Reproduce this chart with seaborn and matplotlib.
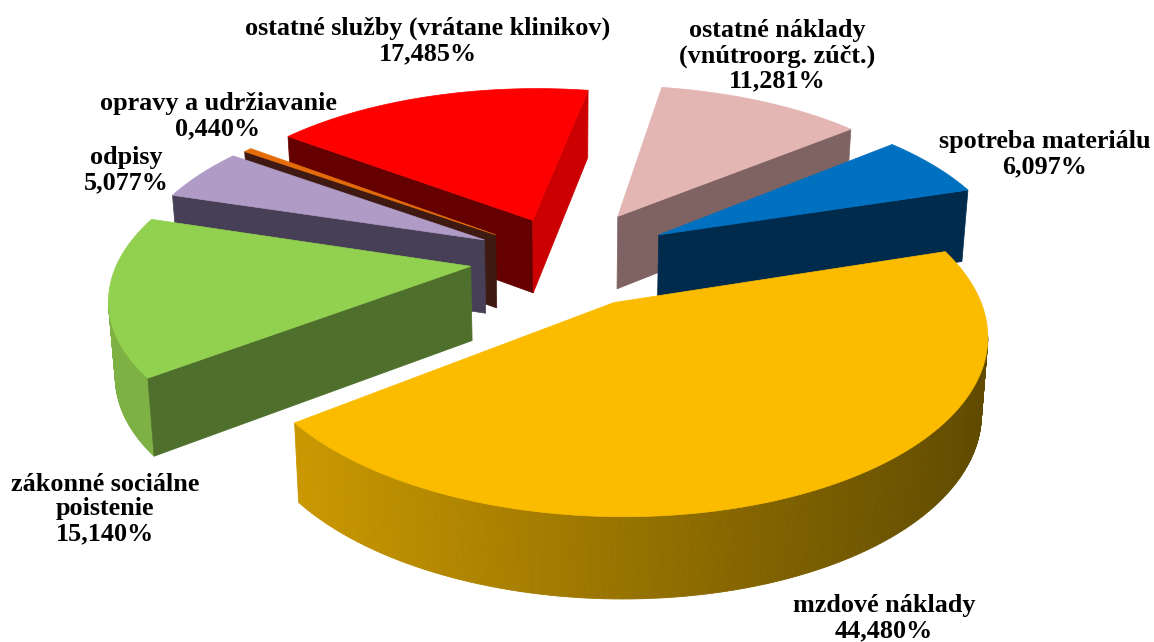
import numpy as np
import matplotlib
matplotlib.use("Agg")
import matplotlib.pyplot as plt
from matplotlib.collections import PolyCollection
from matplotlib.colors import to_rgb
import seaborn as sns

categories = ["ostatné náklady\n(vnútroorg. zúčt.)", "spotreba materiálu", "mzdové náklady",
              "zákonné sociálne\npoistenie", "odpisy", "opravy a udržiavanie",
              "ostatné služby (vrátane klinikov)"]
values = [11.281, 6.097, 44.480, 15.140, 5.077, 0.440, 17.485]
top_colors = ["#E3B5B3", "#0070C0", "#FBBC00", "#92D050", "#AF9BC5", "#E46C0A", "#FF0000"]
start_faces = ["#7F6362", "#002B4D", "#5F4A00", "#4F702C", "#463F55", "#3E1A12", "#650000"]
end_faces = ["#7F6362", "#002B4D", "#5F4A00", "#4F702C", "#463F55", "#3E1A12", "#CC0000"]
rim_light = ["#B89391", "#005A9A", "#C99700", "#7DB143", "#8C7C9E", "#B85608", "#CC0000"]
rim_dark = ["#7F6362", "#002B4D", "#5F4A00", "#7DB143", "#8C7C9E", "#B85608", "#CC0000"]
explode = [0.31, 0.31, 0.29, 0.27, 0.26, 0.25, 0.26]
draw_order = [6, 5, 4, 0, 1, 3, 2]
label_xy = [(777, 56), (1045, 154), (884, 618), (105, 509), (126, 170), (218, 116), (428, 41)]

START = 10.0
CX, CY, A, B, K, H = 565.0, 258.5, 352.0, 164.0, 0.16, 74.0

sns.set_theme(style="white")
plt.rcParams["font.family"] = ["Liberation Serif", "DejaVu Serif"]


def project(x, y, drop=0.0):
    w = 1 + K * y
    shrink = 1 - 0.015 * drop
    sx = CX + A * x / w * shrink
    sy = CY - B * y / w + drop * H / (1 + 0.08 * y)
    return np.column_stack([sx, sy])


def wall(p, q, p_low, q_low):
    return np.array([p, q, q_low, p_low])


fig, ax = plt.subplots(figsize=(11.54, 6.42), dpi=100)
fig.subplots_adjust(0, 0, 1, 1)
ax.set_xlim(0, 1154)
ax.set_ylim(642, 0)
ax.axis("off")

shares = np.array(values) / np.sum(values) * 360
starts = START + np.concatenate([[0], np.cumsum(shares)[:-1]])
palette = sns.color_palette(top_colors)

for i in draw_order:
    a0, a1 = starts[i], starts[i] + shares[i]
    mid = np.radians((a0 + a1) / 2)
    ox, oy = explode[i] * np.sin(mid), explode[i] * np.cos(mid)
    t = np.radians(np.linspace(a0, a1, max(int(shares[i] * 2), 6)))
    rx, ry = ox + np.sin(t), oy + np.cos(t)
    top_apex = project(np.array([ox]), np.array([oy]))[0]
    bot_apex = project(np.array([ox]), np.array([oy]), 1.0)[0]
    top_rim = project(rx, ry)
    bot_rim = project(rx, ry, 1.0)

    # outer rim: only segments running leftwards on screen face the viewer
    polys, cols = [], []
    c_l, c_d = np.array(to_rgb(rim_light[i])), np.array(to_rgb(rim_dark[i]))
    for j in range(len(t) - 1):
        if top_rim[j + 1, 0] < top_rim[j, 0]:
            q = wall(top_rim[j], top_rim[j + 1], bot_rim[j], bot_rim[j + 1])
            polys.append(q)
            f = np.clip((q[:, 0].mean() - 305) / 680, 0, 1)
            cols.append(c_l * (1 - f) + c_d * f)
    if polys:
        ax.add_collection(PolyCollection(polys, facecolors=cols, edgecolors=cols, linewidths=0.6))

    # radial cut faces, culled the same way
    if top_rim[0, 0] < top_apex[0]:
        f = wall(top_apex, top_rim[0], bot_apex, bot_rim[0])
        ax.fill(f[:, 0], f[:, 1], color=start_faces[i], lw=0.5)
    if top_apex[0] < top_rim[-1, 0]:
        f = wall(top_rim[-1], top_apex, bot_rim[-1], bot_apex)
        ax.fill(f[:, 0], f[:, 1], color=end_faces[i], lw=0.5)

    top = np.vstack([top_apex, top_rim])
    ax.fill(top[:, 0], top[:, 1], color=palette[i], lw=0.5)

for name, v, (x, y) in zip(categories, values, label_xy):
    txt = name + "\n" + f"{v:.3f}%".replace(".", ",")
    ax.text(x, y, txt, ha="center", va="center", fontsize=18.8, fontweight="bold",
            color="black", linespacing=1.1)

fig.savefig("out.png", dpi=100)
